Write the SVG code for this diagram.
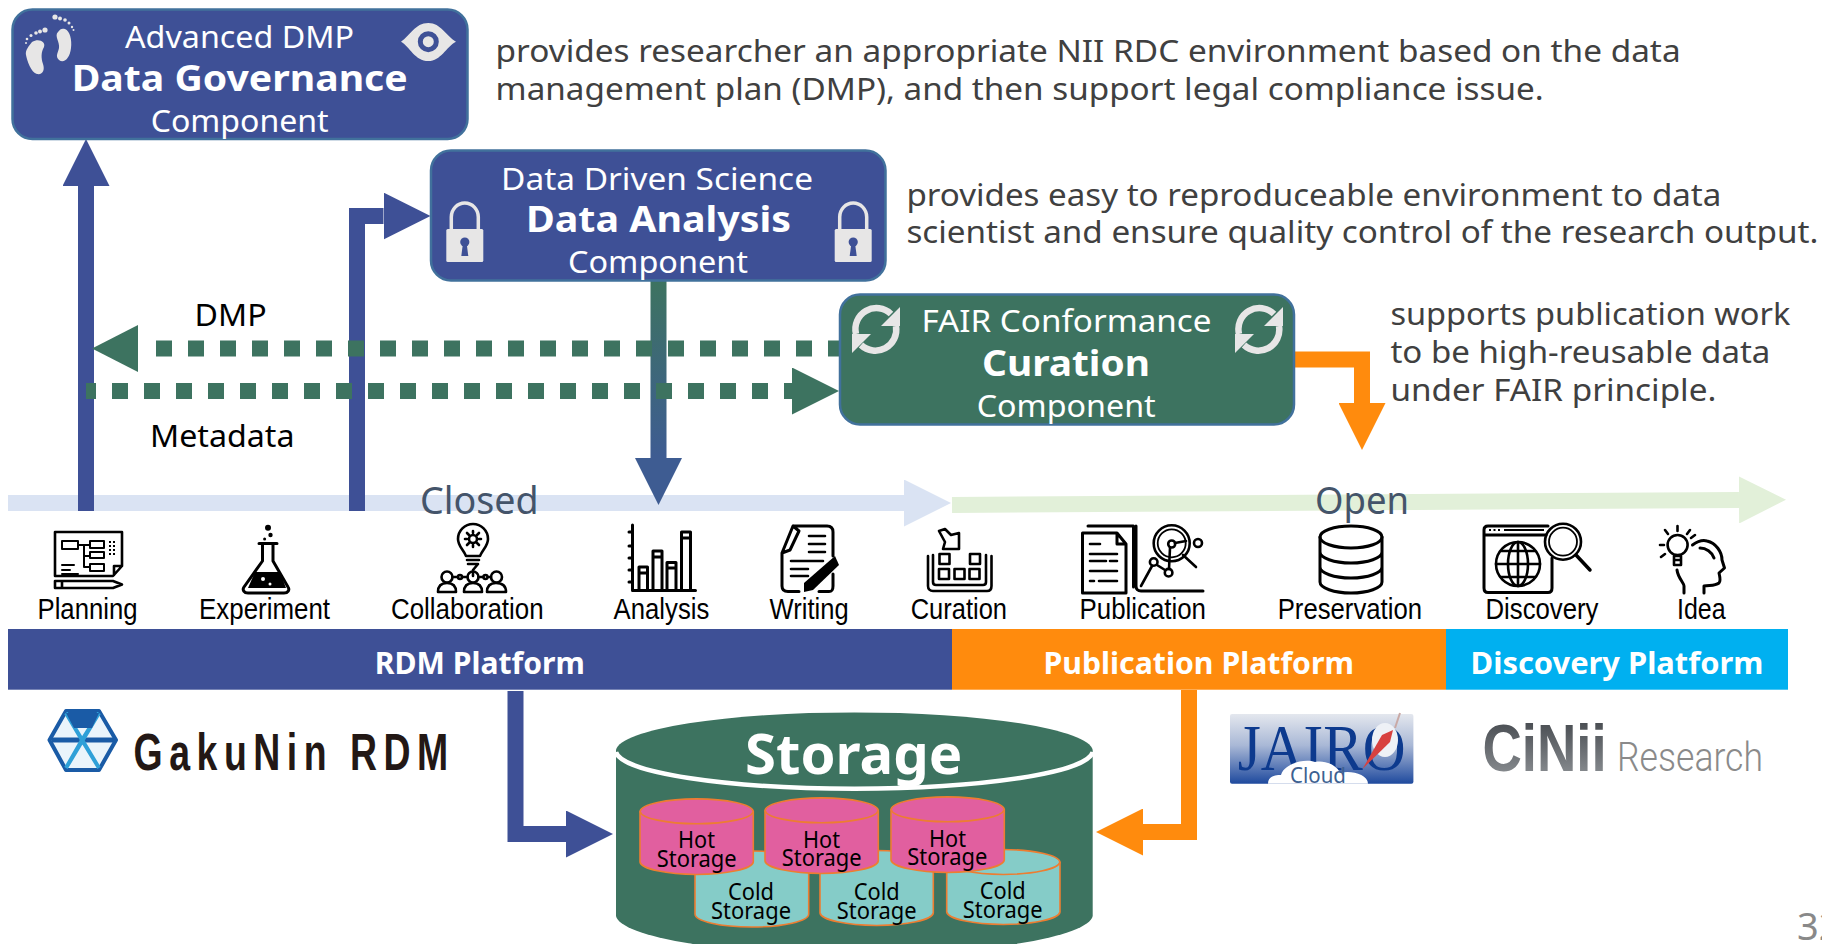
<svg xmlns="http://www.w3.org/2000/svg" width="1822" height="944" viewBox="0 0 1822 944">
<style>
text{font-family:"Noto Sans","Open Sans","DejaVu Sans",sans-serif}
.desc{font-size:31px;fill:#404040}
.w{font-size:30px;fill:#fff}
.wb{font-size:36px;fill:#fff;font-weight:700}
.lab{font-size:30px;fill:#000}
.phase{font-size:38px;fill:#44546a}
.st{font-family:"Liberation Sans",Arial,sans-serif;font-size:29.5px;fill:#000}
.plat{font-size:30px;font-weight:700;fill:#fff}
.s{font-size:23px;fill:#000}
.box{stroke-width:2.5}
.ic{fill:none;stroke:#000;stroke-width:2.6;stroke-linejoin:round;stroke-linecap:round}
.icf{fill:#000;stroke:none}
.g{fill:#e7e6e6;stroke:none}
.hot{fill:#e15f9f;stroke:#ed7d31;stroke-width:1.6}
.cold{fill:#85ccc8;stroke:#ed7d31;stroke-width:1.6}
.c{fill:none;stroke-width:16}
</style>
<defs>
<marker id="hb" markerUnits="userSpaceOnUse" markerWidth="47" markerHeight="47" refX="0" refY="23.5" orient="auto"><path d="M0 0L47 23.5L0 47Z" fill="#3e5096"/></marker>
<marker id="hg" markerUnits="userSpaceOnUse" markerWidth="47" markerHeight="47" refX="0" refY="23.5" orient="auto"><path d="M0 0L47 23.5L0 47Z" fill="#3d7360"/></marker>
<marker id="ho" markerUnits="userSpaceOnUse" markerWidth="47" markerHeight="47" refX="0" refY="23.5" orient="auto"><path d="M0 0L47 23.5L0 47Z" fill="#ff8b0d"/></marker>
<marker id="hm" markerUnits="userSpaceOnUse" markerWidth="47" markerHeight="47" refX="0" refY="23.5" orient="auto"><path d="M0 0L47 23.5L0 47Z" fill="#3e5c92"/></marker>
<marker id="hl" markerUnits="userSpaceOnUse" markerWidth="47" markerHeight="47" refX="0" refY="23.5" orient="auto"><path d="M0 0L47 23.5L0 47Z" fill="#dae3f3"/></marker>
<marker id="hn" markerUnits="userSpaceOnUse" markerWidth="47" markerHeight="47" refX="0" refY="23.5" orient="auto"><path d="M0 0L47 23.5L0 47Z" fill="#e2f0d9"/></marker>
<linearGradient id="mix" gradientUnits="userSpaceOnUse" x1="0" y1="281" x2="0" y2="457"><stop offset="0" stop-color="#3d7360"/><stop offset="1" stop-color="#3e5c92"/></linearGradient>
<linearGradient id="jairo" x1="0" y1="0" x2="0" y2="1"><stop offset="0" stop-color="#e4e7ee"/><stop offset=".45" stop-color="#a9b8d6"/><stop offset="1" stop-color="#1f4a9e"/></linearGradient>
<linearGradient id="cinii" gradientUnits="userSpaceOnUse" x1="0" y1="722" x2="0" y2="772"><stop offset="0" stop-color="#4a4e53"/><stop offset="1" stop-color="#84888c"/></linearGradient>
<g id="lock"><path d="M-13.500 13V0A13.500 14 0 0 1 13.500 0V13" fill="none" stroke="#e7e6e6" stroke-width="3.500"/><rect x="-18.500" y="12" width="37" height="33" rx="1.500" class="g"/><circle cx="0" cy="25" r="4.600" fill="#3e5096"/><path d="M-1.800 26L-3.500 39H3.500L1.800 26Z" fill="#3e5096"/></g>
<g id="sync"><path d="M15 -16A21 21 0 0 0 -20 4" fill="none" stroke="#e7e6e6" stroke-width="6.500"/><path d="M24 -23V-4H5Z" class="g"/><path d="M-15 15A21 21 0 0 0 20 -4" fill="none" stroke="#e7e6e6" stroke-width="6.500"/><path d="M-24 23V4H-5Z" class="g"/></g>
</defs>

<rect width="1822" height="944" fill="#fff"/>

<g id="connectors">
<path class="c" d="M8 503H904" stroke="#dae3f3" marker-end="url(#hl)"/>
<path class="c" d="M952 505L1739 500" stroke="#e2f0d9" marker-end="url(#hn)"/>
<path class="c" d="M86 511V186" stroke="#3e5096" marker-end="url(#hb)"/>
<path class="c" d="M357 511V216H383.500" stroke="#3e5096" marker-end="url(#hb)"/>
<path class="c" d="M658.500 281V458" stroke="url(#mix)" marker-end="url(#hm)"/>
<path class="c" d="M156 348.500H840" stroke="#3d7360" stroke-dasharray="16 16"/>
<path d="M138 325V372L92 348.500Z" fill="#3d7360"/>
<path class="c" d="M86 391H792" stroke="#3d7360" stroke-dasharray="16 16" stroke-dashoffset="6"/>
<path class="c" d="M86 391H792" stroke="none" marker-end="url(#hg)"/>
<path class="c" d="M1294 359.500H1362V403" stroke="#ff8b0d" marker-end="url(#ho)"/>
<path class="c" d="M515.500 691V834H566" stroke="#3e5096" marker-end="url(#hb)"/>
<path class="c" d="M1189 690V832H1143" stroke="#ff8b0d" marker-end="url(#ho)"/>
</g>

<g id="desc-text">
<text class="desc" x="495.600" y="62.300" textLength="1185" lengthAdjust="spacingAndGlyphs">provides researcher an appropriate NII RDC environment based on the data</text>
<text class="desc" x="495.600" y="100" textLength="1048" lengthAdjust="spacingAndGlyphs">management plan (DMP), and then support legal compliance issue.</text>
<text class="desc" x="906.400" y="205.700" textLength="815" lengthAdjust="spacingAndGlyphs">provides easy to reproduceable environment to data</text>
<text class="desc" x="906.400" y="243" textLength="912" lengthAdjust="spacingAndGlyphs">scientist and ensure quality control of the research output.</text>
<text class="desc" x="1390.400" y="325" textLength="400" lengthAdjust="spacingAndGlyphs">supports publication work</text>
<text class="desc" x="1390.400" y="362.700" textLength="380" lengthAdjust="spacingAndGlyphs">to be high-reusable data</text>
<text class="desc" x="1390.400" y="401" textLength="326" lengthAdjust="spacingAndGlyphs">under FAIR principle.</text>
</g>

<g id="data-governance">
<rect class="box" x="12.500" y="9.500" width="455" height="129.500" rx="20" fill="#3e5096" stroke="#41719c"/>
<text class="w" x="125" y="47.700" textLength="229" lengthAdjust="spacingAndGlyphs">Advanced DMP</text>
<text class="wb" x="71.700" y="90.700" textLength="336" lengthAdjust="spacingAndGlyphs">Data Governance</text>
<text class="w" x="150.700" y="131.700" textLength="178" lengthAdjust="spacingAndGlyphs">Component</text>
<path class="g" d="M32 42C29 46 25 50 26 55C27 60 31 73 37 74C43 75 45 70 43 64C41 58 41 52 44 47C46 42 39 38 32 42Z"/>
<path class="g" d="M58 32C54 36 60 42 59 48C58 53 55 56 59 60C64 64 70 58 71 48C72 40 70 31 65 29C62 28 60 29 58 32Z"/>
<g class="g"><circle cx="45" cy="30" r="2.600"/><circle cx="40" cy="31.500" r="2"/><circle cx="36" cy="33" r="1.800"/><circle cx="31" cy="35.500" r="1.500"/><circle cx="27" cy="39" r="1.300"/><circle cx="26" cy="43" r="1"/><circle cx="55" cy="17" r="2.600"/><circle cx="60" cy="18.500" r="2"/><circle cx="65" cy="20" r="1.800"/><circle cx="69" cy="23" r="1.500"/><circle cx="72" cy="27" r="1.200"/><circle cx="73.500" cy="30" r="1"/></g>
<path class="g" d="M401 41.700C410 36 415 23 428.300 23C441 23 446 36 456 41.700C446 47 441 61 428.300 61C415 61 410 47 401 41.700Z"/>
<circle cx="428.300" cy="41.700" r="8" fill="none" stroke="#3e5096" stroke-width="5"/>
</g>

<g id="data-analysis">
<rect class="box" x="431" y="150.500" width="454.500" height="130" rx="20" fill="#3e5096" stroke="#41719c"/>
<text class="w" x="501" y="190" textLength="312" lengthAdjust="spacingAndGlyphs">Data Driven Science</text>
<text class="wb" x="526" y="231.700" textLength="265" lengthAdjust="spacingAndGlyphs">Data Analysis</text>
<text class="w" x="568" y="273" textLength="180" lengthAdjust="spacingAndGlyphs">Component</text>
<use href="#lock" x="464.800" y="217"/>
<use href="#lock" x="853.200" y="217"/>
</g>

<g id="curation">
<rect class="box" x="840" y="294.500" width="454" height="130" rx="20" fill="#3d7360" stroke="#41719c"/>
<text class="w" x="921.500" y="332" textLength="290" lengthAdjust="spacingAndGlyphs">FAIR Conformance</text>
<text class="wb" x="982" y="375.700" textLength="168" lengthAdjust="spacingAndGlyphs">Curation</text>
<text class="w" x="976.700" y="416.700" textLength="179" lengthAdjust="spacingAndGlyphs">Component</text>
<use href="#sync" x="876" y="330"/>
<use href="#sync" x="1259" y="330"/>
</g>

<g id="labels">
<text class="lab" x="194.600" y="325.700" textLength="72" lengthAdjust="spacingAndGlyphs">DMP</text>
<text class="lab" x="150" y="447" textLength="144.500" lengthAdjust="spacingAndGlyphs">Metadata</text>
<text class="phase" x="420" y="514" textLength="118.600" lengthAdjust="spacingAndGlyphs">Closed</text>
<text class="phase" x="1315" y="514" textLength="94" lengthAdjust="spacingAndGlyphs">Open</text>
</g>

<g id="stage-planning">
<path class="ic" d="M55 532H122V566L113 576H55ZM122 566H114V575"/>
<path class="ic" style="stroke-width:2" d="M62 541H78V549H62ZM90 541H104V548H90ZM90 552H104V558H90ZM90 564H104V571H90ZM78 545H84M84 556H90M84 567H90M84 545H90M84 545V567M62 565H74M62 570H70M62 574H78"/>
<path class="icf" d="M109 541h2v2h-2zM113 541h2v2h-2zM109 545h2v2h-2zM113 545h2v2h-2zM109 549h2v2h-2zM113 549h2v2h-2zM109 553h2v2h-2zM113 553h2v2h-2z"/>
<path class="ic" d="M55 581H113L122 584.500L113 588H55ZM62 581V588"/>
<text class="st" x="37.500" y="619.300" textLength="100" lengthAdjust="spacingAndGlyphs">Planning</text>
</g>
<g id="stage-experiment">
<circle class="icf" cx="268" cy="527.700" r="3"/><circle class="icf" cx="270.500" cy="535" r="2.200"/><circle class="icf" cx="264.600" cy="539" r="1.500"/>
<path class="ic" style="stroke-width:3" d="M259 543.500H277M262.500 543.500V561L244 587C242 590 244 593 248 593H284C288 593 290 590 288 587L273 561V543.500"/>
<path class="icf" d="M255 572H280L286 588H248Z"/>
<circle cx="263" cy="579" r="2" fill="#fff"/><circle cx="270" cy="584" r="1.500" fill="#fff"/>
<text class="st" x="199" y="619.300" textLength="131" lengthAdjust="spacingAndGlyphs">Experiment</text>
</g>
<g id="stage-collaboration">
<path class="ic" d="M466 556C463 549 458 546 458 539A15 15 0 0 1 488 539C488 546 483 549 480 556ZM467 560H479M468 564H478L473 570V576"/>
<circle class="ic" cx="473" cy="539" r="4"/>
<path class="ic" d="M473 531V533M473 545V547M465 539H467M479 539H481M467 533L469 535M477 543L479 545M467 545L469 543M477 535L479 533"/>
<g class="ic"><circle cx="447" cy="577" r="5.500"/><circle cx="473" cy="577" r="5.500"/><circle cx="496.500" cy="577" r="5.500"/><path d="M438 592C438 585 442 583 447 583C452 583 456 585 456 592ZM464 592C464 585 468 583 473 583C478 583 482 585 482 592ZM487 592C487 585 491 583 496 583C501 583 506 585 506 592Z"/><path d="M452.500 577H457M463 577H467.500M478.500 577H483M489 577H491"/><circle cx="460" cy="577" r="2"/><circle cx="485.500" cy="577" r="2"/></g>
<text class="st" x="391" y="619.300" textLength="152.600" lengthAdjust="spacingAndGlyphs">Collaboration</text>
</g>
<g id="stage-analysis">
<path class="ic" style="stroke-width:3" d="M632.500 525V590.500H695.500M629 532H632M629 546H632M629 558H632M629 570H632M629 582H632"/>
<path class="ic" style="stroke-width:3" d="M639 590V567H647.500V590M639 573H647.500M653 590V551H662V590M653 557H662M667 590V562.500H676V590M667 568H676M681.500 590V532H690.500V590M681.500 538H690.500"/>
<text class="st" x="613.600" y="619.300" textLength="95.700" lengthAdjust="spacingAndGlyphs">Analysis</text>
</g>
<g id="stage-writing">
<path class="ic" style="stroke-width:3" d="M782 553L793 526H827C831 526 833 528 833 532V556M793 526L799 531L790 550L782 553M782 553V586C782 590 784 591.500 788 591.500H799M819 591.500H829C832 591.500 833 590 833 586V574"/>
<path class="ic" d="M809 536H825M809 544H825M809 552H825M791 561H823M791 569H808M791 576H808"/>
<path class="icf" d="M835 556L839 565L813 590L804 592L804 583Z"/>
<text class="st" x="769.600" y="619.300" textLength="79" lengthAdjust="spacingAndGlyphs">Writing</text>
</g>
<g id="stage-curation">
<path class="ic" d="M939 531L945 529L951 535L959 533V549H943L945 542Z"/>
<path class="ic" d="M928 556V586C928 589 930 591 933 591H987C990 591 991.500 589 991.500 586V556M933 555V582C933 584 934 585 936 585H983C985 585 986 584 986 582V555"/>
<rect class="ic" x="939.500" y="554" width="10" height="10"/><rect class="ic" x="970" y="554" width="10" height="10"/><rect class="ic" x="939" y="569" width="10" height="10"/><rect class="ic" x="954.500" y="569" width="10" height="10"/><rect class="ic" x="969.500" y="569" width="10" height="10"/>
<text class="st" x="910.700" y="619.300" textLength="96.300" lengthAdjust="spacingAndGlyphs">Curation</text>
</g>
<g id="stage-publication">
<path class="ic" style="stroke-width:3" d="M1088 526H1133.500V587M1082.500 533H1117L1126 544V593H1082.500ZM1117 533V544H1126"/>
<path class="ic" d="M1090 544H1100M1090 554H1117M1090 561H1106M1110 561H1117M1090 571H1117M1090 581H1094M1099 581H1117"/>
<path class="ic" style="stroke-width:3" d="M1136 526V586C1136 589 1138 591 1141 591H1203"/>
<circle class="ic" cx="1171.700" cy="543.300" r="18"/><circle class="ic" style="stroke-width:1.800" cx="1171.700" cy="543.300" r="14"/>
<circle class="ic" cx="1171.700" cy="544" r="3.500"/><circle class="ic" cx="1198" cy="543" r="4"/><circle class="ic" cx="1153.700" cy="562" r="3.800"/><circle class="ic" cx="1168.600" cy="572.700" r="3.800"/>
<path class="ic" d="M1183 555L1196 567M1175 543L1186 541M1170 548L1169 569M1157 565L1165 570M1152 566L1141 586"/>
<text class="st" x="1079.500" y="619.300" textLength="126.500" lengthAdjust="spacingAndGlyphs">Publication</text>
</g>
<g id="stage-preservation">
<ellipse class="ic" cx="1351" cy="537" rx="31" ry="11" style="stroke-width:3"/>
<path class="ic" style="stroke-width:3" d="M1320 537V582C1320 588 1334 593 1351 593C1368 593 1382 588 1382 582V537M1320 552C1320 558 1334 563 1351 563C1368 563 1382 558 1382 552M1320 567C1320 573 1334 578 1351 578C1368 578 1382 573 1382 567"/>
<text class="st" x="1277.700" y="619.300" textLength="144.300" lengthAdjust="spacingAndGlyphs">Preservation</text>
</g>
<g id="stage-discovery">
<path class="ic" style="stroke-width:3" d="M1548 526H1488C1485 526 1484 528 1484 530V588C1484 591 1485 592.500 1488 592.500H1548C1551 592.500 1552 591 1552 588V558M1484 535H1546"/>
<path class="icf" d="M1489 529h2v2h-2zM1493.500 529h2v2h-2zM1498 529h2v2h-2zM1504 529h40v2h-40z"/>
<circle class="ic" cx="1518" cy="564" r="22"/>
<ellipse class="ic" cx="1518" cy="564" rx="10" ry="22"/>
<path class="ic" d="M1518 542V586M1496 564H1540M1501 551H1535M1501 577H1535"/>
<circle class="ic" cx="1563" cy="541.700" r="18"/><circle class="ic" style="stroke-width:1.800" cx="1563" cy="541.700" r="14"/>
<path class="ic" style="stroke-width:3.500" d="M1576 555L1590 570"/>
<text class="st" x="1485.500" y="619.300" textLength="113" lengthAdjust="spacingAndGlyphs">Discovery</text>
</g>
<g id="stage-idea">
<circle class="ic" cx="1677.600" cy="545" r="10"/>
<path class="ic" d="M1674 556H1681V565H1674ZM1674 560H1681M1677.500 526V531M1665 530L1668 534M1690 530L1687 534M1660 545H1664M1661 557L1665 554M1695 535L1691 538"/>
<path class="ic" style="stroke-width:3" d="M1692.500 545C1698 541 1703 540 1707 541C1716 543 1722 552 1722 560L1724.500 568L1719 573C1720 577 1721 581 1719 583C1715 586 1710 585 1704 586V593M1684 593V586C1684 583 1678 578 1677 570M1700 548C1706 548 1712 552 1714 558"/>
<text class="st" x="1677" y="619.300" textLength="48.600" lengthAdjust="spacingAndGlyphs">Idea</text>
</g>

<g id="rdm-platform">
<rect x="8" y="629" width="944" height="60.700" fill="#3e5096"/>
<text class="plat" x="374.800" y="674" textLength="210" lengthAdjust="spacingAndGlyphs">RDM Platform</text>
</g>
<g id="publication-platform">
<rect x="952" y="629" width="494" height="60.700" fill="#ff8b0d"/>
<text class="plat" x="1043.500" y="674" textLength="310.500" lengthAdjust="spacingAndGlyphs">Publication Platform</text>
</g>
<g id="discovery-platform">
<rect x="1446" y="629" width="342" height="60.700" fill="#00b0f0"/>
<text class="plat" x="1470.600" y="674" textLength="292.800" lengthAdjust="spacingAndGlyphs">Discovery Platform</text>
</g>

<g id="gakunin-logo">
<path d="M66 711H99L116 740L99 770H66L49.500 740Z" fill="#eaf4fb" stroke="#1a5ba6" stroke-width="4" stroke-linejoin="round"/>
<path d="M52 740H114" stroke="#1a5ba6" stroke-width="5"/>
<path d="M66 713L99 768M99 713L66 768M66 713L82 740L66 768M99 713L82 740L99 768" fill="none" stroke="#2fa0d8" stroke-width="4"/>
<path d="M66 713H99L92 728H74Z" fill="#1a5ba6"/>
<text transform="translate(133.600 770) scale(.72 1)" font-size="52" font-weight="700" fill="#231815" style="font-family:'Liberation Sans',Arial,sans-serif" textLength="437" lengthAdjust="spacing">GakuNin RDM</text>
</g>

<g id="jairo-logo">
<rect x="1230" y="714" width="183.400" height="69.700" rx="2" fill="url(#jairo)"/>
<text x="1237.700" y="770" font-size="66" fill="#0d3a8e" style="font-family:'Liberation Serif',serif" textLength="168" lengthAdjust="spacingAndGlyphs">JAIRO</text>
<ellipse cx="1385" cy="740" rx="13" ry="17" fill="#eef1f6"/>
<path d="M1362.500 769L1382 735L1393 730L1390 742Z" fill="#d8413f"/>
<path d="M1395 728L1400 713" stroke="#c9a9a5" stroke-width="2"/>
<path d="M1268 783.700C1268 776 1276 775 1281 775C1284 764 1304 758 1315 762C1325 760 1337 765 1340 773C1350 770 1368 774 1368 783.700Z" fill="#fff"/>
<text x="1290" y="783" font-size="22" fill="#3d6191" textLength="56" lengthAdjust="spacingAndGlyphs">Cloud</text>
</g>

<g id="cinii-logo">
<text x="1482.400" y="771" font-size="67" font-weight="700" fill="url(#cinii)" style="font-family:'Liberation Sans',Arial,sans-serif" textLength="124.200" lengthAdjust="spacingAndGlyphs">CiNii</text>
<text x="1617" y="771" font-size="41" font-weight="300" fill="#8a8a8a" style="font-family:Roboto,sans-serif" textLength="146" lengthAdjust="spacingAndGlyphs">Research</text>
</g>

<g id="storage">
<path d="M616 750V916A238.500 40 0 0 0 1092.700 916V750A238.500 39 0 0 0 616 750Z" fill="#3d7360"/>
<path d="M616 752A238.500 38 0 0 0 1092.700 752" fill="none" stroke="#fff" stroke-width="4.500"/>
<text x="745" y="774" font-size="55" font-weight="700" fill="#fff" textLength="217.300" lengthAdjust="spacingAndGlyphs">Storage</text>
</g>

<g id="cold-1">
<path class="cold" d="M695 864V914A56.800 13 0 0 0 808.700 914V864A56.800 13 0 0 0 695 864Z"/>
<text class="s" x="728" y="900" textLength="46" lengthAdjust="spacingAndGlyphs">Cold</text>
<text class="s" x="711" y="919.300" textLength="80" lengthAdjust="spacingAndGlyphs">Storage</text>
</g>
<g id="cold-2">
<path class="cold" d="M820 863V913A56.700 13 0 0 0 933.300 913V863A56.700 13 0 0 0 820 863Z"/>
<text class="s" x="853.700" y="900" textLength="46" lengthAdjust="spacingAndGlyphs">Cold</text>
<text class="s" x="836.700" y="918.500" textLength="80" lengthAdjust="spacingAndGlyphs">Storage</text>
</g>
<g id="cold-3">
<path class="cold" d="M946.700 862V912A56.700 13 0 0 0 1060 912V862A56.700 13 0 0 0 946.700 862Z"/>
<path class="cold" style="fill:none" d="M946.700 862A56.700 13 0 0 0 1060 862"/>
<text class="s" x="979.700" y="899" textLength="46" lengthAdjust="spacingAndGlyphs">Cold</text>
<text class="s" x="962.700" y="918" textLength="80" lengthAdjust="spacingAndGlyphs">Storage</text>
</g>
<g id="hot-1">
<path class="hot" d="M640 811.300V862A56.700 13 0 0 0 753.300 862V811.300A56.700 13 0 0 0 640 811.300Z"/>
<path class="hot" style="fill:none" d="M640 811.300A56.700 13 0 0 0 753.300 811.300"/>
<text class="s" x="678" y="848.300" textLength="37" lengthAdjust="spacingAndGlyphs">Hot</text>
<text class="s" x="656.700" y="866.700" textLength="80" lengthAdjust="spacingAndGlyphs">Storage</text>
</g>
<g id="hot-2">
<path class="hot" d="M765 810.300V861A56.700 13 0 0 0 878.300 861V810.300A56.700 13 0 0 0 765 810.300Z"/>
<path class="hot" style="fill:none" d="M765 810.300A56.700 13 0 0 0 878.300 810.300"/>
<text class="s" x="803" y="847.500" textLength="37" lengthAdjust="spacingAndGlyphs">Hot</text>
<text class="s" x="781.700" y="866" textLength="80" lengthAdjust="spacingAndGlyphs">Storage</text>
</g>
<g id="hot-3">
<path class="hot" d="M891 809.300V860A56.700 13 0 0 0 1004.300 860V809.300A56.700 13 0 0 0 891 809.300Z"/>
<path class="hot" style="fill:none" d="M891 809.300A56.700 13 0 0 0 1004.300 809.300"/>
<text class="s" x="929" y="846.500" textLength="37" lengthAdjust="spacingAndGlyphs">Hot</text>
<text class="s" x="907.300" y="865" textLength="80" lengthAdjust="spacingAndGlyphs">Storage</text>
</g>

<text id="page-number" x="1797" y="940" font-size="38" fill="#898989">32</text>
</svg>
